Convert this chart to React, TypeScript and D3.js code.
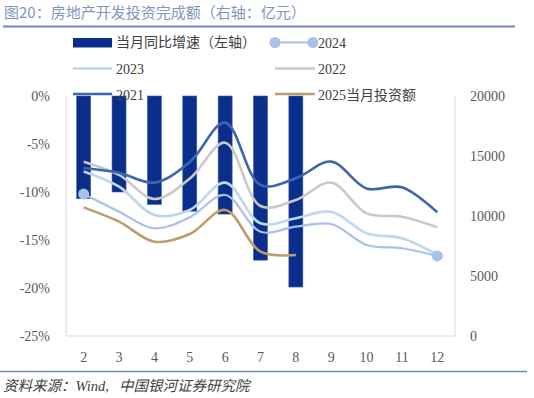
import React from "react";
import * as d3 from "d3";

// months on the x axis
const months = ["2", "3", "4", "5", "6", "7", "8", "9", "10", "11", "12"];

// 当月同比增速 (left axis, %)
const yoy = [-10.7, -10.0, -11.3, -12.0, -12.3, -17.1, -19.9];

// monthly investment, 亿元 (right axis)
const v2021 = [14000, 13600, 12780, 14500, 17780, 12580, 13140, 14530, 12300, 12390, 10300];
const v2022 = [14530, 13420, 11420, 13120, 16110, 10830, 11330, 12780, 10220, 9940, 9060];
const v2023 = [13700, 12440, 10080, 10500, 12780, 9390, 9810, 10360, 8560, 8140, 6750];
const v2024 = [11830, 10360, 8970, 9900, 11750, 8690, 9110, 9330, 7580, 7310, 6670];
const v2025 = [10720, 9530, 7860, 8500, 10500, 7030, 6750];

const leftTicks = [0, -5, -10, -15, -20, -25];
const rightTicks = [0, 5000, 10000, 15000, 20000];

const numFont = "'Liberation Serif', 'Noto Sans CJK SC', serif";
const cjkFont = "'Noto Sans CJK SC', 'Liberation Serif', sans-serif";

const App = () => {
  const W = 534;
  const H = 398;
  const left = 66;
  const right = 455;
  const top = 96;
  const bottom = 336;

  const x = d3.scaleBand().domain(months).range([left, right]).padding(0);
  const yL = d3.scaleLinear().domain([-25, 0]).range([bottom, top]);
  const yR = d3.scaleLinear().domain([0, 20000]).range([bottom, top]);
  const cx = (i: number) => (x(months[i]) as number) + x.bandwidth() / 2;

  const line = d3
    .line<number>()
    .x((d, i) => cx(i))
    .y(d => yR(d))
    .curve(d3.curveCatmullRom.alpha(0.5));

  const series = [
    { data: v2022, color: "#c9c9c9", w: 2.6 },
    { data: v2023, color: "#bdd7ee", w: 2.6 },
    { data: v2024, color: "#a9c0e8", w: 2.2 },
    { data: v2021, color: "#3d66b0", w: 2.6 },
    { data: v2025, color: "#bf9c6d", w: 2.6 }
  ];

  const barW = 14;
  const tickColor = "#595959";

  return (
    <svg width={W} height={H} style={{ position: "absolute", left: 0, top: 0 }}>
      <rect width={W} height={H} fill="#fff" />
      {/* title */}
      <text x={4} y={18} fontSize={15} fill="#8296bb" fontFamily={cjkFont}>
        图20：房地产开发投资完成额（右轴：亿元）
      </text>
      <line x1={3} x2={515} y1={26.5} y2={26.5} stroke="#6f88b8" strokeWidth={2} />

      {/* frame */}
      <line x1={left} x2={left} y1={top} y2={bottom} stroke="#d9d9d9" />
      <line x1={right} x2={right} y1={top} y2={bottom} stroke="#d9d9d9" />
      <line x1={left} x2={right} y1={bottom} y2={bottom} stroke="#d9d9d9" />

      {/* bars */}
      {yoy.map((d, i) => (
        <rect
          key={i}
          x={cx(i) - barW / 2}
          y={yL(0)}
          width={barW}
          height={yL(d) - yL(0)}
          fill="#0b2e8b"
          stroke="#3f5fae"
          strokeWidth={0.6}
        />
      ))}

      {/* lines */}
      {series.map((s, i) => (
        <path key={i} d={line(s.data) || ""} fill="none" stroke={s.color} strokeWidth={s.w} />
      ))}
      <circle cx={cx(0)} cy={yR(v2024[0])} r={5.5} fill="#a9c0e8" />
      <circle cx={cx(10)} cy={yR(v2024[10])} r={5.5} fill="#a9c0e8" />

      {/* left axis */}
      {leftTicks.map(t => (
        <text key={t} x={50} y={yL(t) + 5} textAnchor="end" fontSize={14} fill={tickColor} fontFamily={numFont}>
          {t}%
        </text>
      ))}
      {/* right axis */}
      {rightTicks.map(t => (
        <text key={t} x={470} y={yR(t) + 5} fontSize={14} fill={tickColor} fontFamily={numFont}>
          {t}
        </text>
      ))}
      {/* x axis */}
      {months.map((m, i) => (
        <text key={m} x={cx(i)} y={362} textAnchor="middle" fontSize={14} fill={tickColor} fontFamily={numFont}>
          {m}
        </text>
      ))}

      {/* legend */}
      <g fontSize={14} fill="#404040" fontFamily={numFont}>
        <rect x={73} y={38} width={39} height={9.5} fill="#0b2e8b" />
        <text x={116} y={47} fontFamily={cjkFont}>当月同比增速（左轴）</text>
        <line x1={275} x2={313} y1={42.5} y2={42.5} stroke="#a9c0e8" strokeWidth={2} />
        <circle cx={275} cy={42.5} r={5.5} fill="#a9c0e8" />
        <circle cx={313} cy={42.5} r={5.5} fill="#a9c0e8" />
        <text x={318} y={48}>2024</text>

        <line x1={73} x2={112} y1={68.5} y2={68.5} stroke="#bdd7ee" strokeWidth={2.6} />
        <text x={116} y={74}>2023</text>
        <line x1={275} x2={315} y1={68.5} y2={68.5} stroke="#c9c9c9" strokeWidth={2.6} />
        <text x={318} y={74}>2022</text>

        <line x1={73} x2={112} y1={94} y2={94} stroke="#3d66b0" strokeWidth={2.6} />
        <text x={116} y={99.5}>2021</text>
        <line x1={275} x2={315} y1={94} y2={94} stroke="#bf9c6d" strokeWidth={2.6} />
        <text x={318} y={99.5}>
          2025<tspan fontFamily={cjkFont}>当月投资额</tspan>
        </text>
      </g>

      {/* footer */}
      <line x1={0} x2={527} y1={371.5} y2={371.5} stroke="#6f88b8" strokeWidth={1.5} />
      <text x={3} y={391} fontSize={14.5} fill="#404040" fontStyle="italic" fontFamily={cjkFont}>
        资料来源：<tspan fontFamily={numFont}>Wind,</tspan>
        <tspan dx={10}>中国银河证券研究院</tspan>
      </text>
    </svg>
  );
};

export default App;
